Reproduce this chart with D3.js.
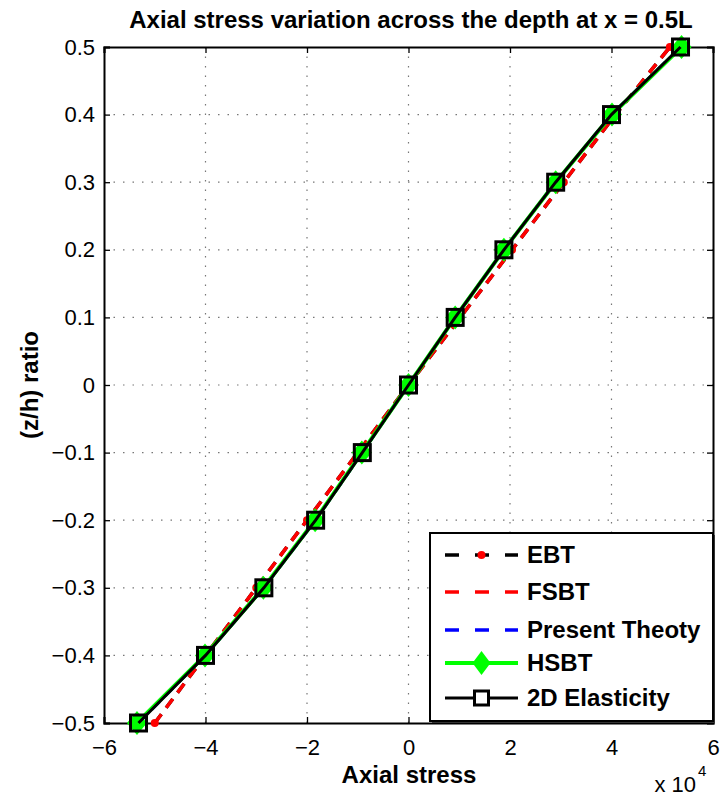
<!DOCTYPE html>
<html><head><meta charset="utf-8">
<script src="https://cdn.jsdelivr.net/npm/d3@7"></script>
<style>body{margin:0;background:#fff}svg{display:block}text{font-family:"Liberation Sans",Arial,sans-serif}</style>
</head><body><svg id="c" width="724" height="797"></svg>
<script>
const zRatio = [-0.5,-0.4,-0.3,-0.2,-0.1,0,0.1,0.2,0.3,0.4,0.5];
const ebt = [-5.0,-4.0,-3.0,-2.0,-1.0,0,1.02,2.04,3.06,4.08,5.15];
const fsbt = [-5.0,-4.0,-3.0,-2.0,-1.0,0,1.02,2.04,3.06,4.08,5.15];
const present = [-5.32,-4.0,-2.85,-1.83,-0.91,0,0.92,1.88,2.9,4.0,5.36];
const hsbt = [-5.35,-4.01,-2.86,-1.84,-0.92,0,0.92,1.88,2.9,4.01,5.38];
const elast2d = [-5.32,-4.0,-2.85,-1.83,-0.91,0,0.92,1.88,2.9,4.0,5.36];
const xTicks = [-6,-4,-2,0,2,4,6];
const yTicks = [-0.5,-0.4,-0.3,-0.2,-0.1,0,0.1,0.2,0.3,0.4,0.5];
const legendNames = ["EBT","FSBT","Present Theoty","HSBT","2D Elasticity"];

const svg = d3.select("#c");
const L=104,R=713,T=47,B=723;
const x = d3.scaleLinear().domain([-6,6]).range([L,R]);
const y = d3.scaleLinear().domain([-0.5,0.5]).range([B,T]);

// grid
const g = svg.append("g");
g.selectAll(".gx").data(xTicks.slice(1,-1)).join("line")
  .attr("x1",d=>x(d)).attr("x2",d=>x(d)).attr("y1",T).attr("y2",B)
  .attr("stroke","#777").attr("stroke-width",1.2).attr("stroke-dasharray","1.5,8");
g.selectAll(".gy").data(yTicks.slice(1,-1)).join("line")
  .attr("y1",d=>y(d)).attr("y2",d=>y(d)).attr("x1",L).attr("x2",R)
  .attr("stroke","#777").attr("stroke-width",1.2).attr("stroke-dasharray","1.5,8");

// axes (ticks inward, box)
const tl = 6;
const axB = d3.axisBottom(x).tickValues(xTicks).tickSize(-tl).tickPadding(tl+10).tickFormat(d=>d<0?"\u2212"+(-d):d);
const axL = d3.axisLeft(y).tickValues(yTicks).tickSize(-tl).tickPadding(tl+3).tickFormat(d=>{const s=d3.format(".1~f")(d);return s.replace("-","\u2212");});
const axT = d3.axisTop(x).tickValues(xTicks).tickSize(-tl).tickFormat("");
const axR = d3.axisRight(y).tickValues(yTicks).tickSize(-tl).tickFormat("");
function style(sel){sel.select(".domain").attr("stroke","#000").attr("stroke-width",2);
  sel.selectAll(".tick line").attr("stroke","#000").attr("stroke-width",1.3);
  sel.selectAll("text").attr("font-size",22).attr("fill","#000").attr("font-family","'Liberation Sans',Arial,sans-serif");}
svg.append("g").attr("transform",`translate(0,${B})`).call(axB).call(style);
svg.append("g").attr("transform",`translate(${L},0)`).call(axL).call(style);
svg.append("g").attr("transform",`translate(0,${T})`).call(axT).call(style);
svg.append("g").attr("transform",`translate(${R},0)`).call(axR).call(style);

// series
const line = d3.line().x(d=>x(d[0])).y(d=>y(d[1]));
const zip = v=>v.map((d,i)=>[d,zRatio[i]]);
const plot = svg.append("g");
plot.append("path").datum(zip(ebt)).attr("d",line).attr("fill","none").attr("stroke","#000").attr("stroke-width",3.5).attr("stroke-dasharray","11,8");
plot.selectAll(".ed").data(zip(ebt)).join("circle").attr("cx",d=>x(d[0])).attr("cy",d=>y(d[1])).attr("r",4).attr("fill","#f00");
plot.append("path").datum(zip(fsbt)).attr("d",line).attr("fill","none").attr("stroke","#f00").attr("stroke-width",3.5).attr("stroke-dasharray","11,8");
plot.append("path").datum(zip(present)).attr("d",line).attr("fill","none").attr("stroke","#00f").attr("stroke-width",3).attr("stroke-dasharray","11,8");
plot.append("path").datum(zip(hsbt)).attr("d",line).attr("fill","none").attr("stroke","#0f0").attr("stroke-width",4);
const diamond = (cx,cy,w,h)=>`M${cx},${cy-h}L${cx+w},${cy}L${cx},${cy+h}L${cx-w},${cy}Z`;
plot.selectAll(".hd").data(zip(hsbt)).join("path").attr("d",d=>diamond(x(d[0]),y(d[1]),10,12)).attr("fill","#0f0");
plot.append("path").datum(zip(elast2d)).attr("d",line).attr("fill","none").attr("stroke","#000").attr("stroke-width",3);
plot.selectAll(".sq").data(zip(elast2d)).join("rect").attr("x",d=>x(d[0])-8).attr("y",d=>y(d[1])-8).attr("width",16).attr("height",16)
  .attr("fill","none").attr("stroke","#000").attr("stroke-width",3);

// legend
const lg = svg.append("g");
const lx0=430, ly0=533, lx1=713, ly1=721;
lg.append("rect").attr("x",lx0+2).attr("y",ly0+2).attr("width",lx1-lx0).attr("height",ly1-ly0).attr("fill","#333");
lg.append("rect").attr("x",lx0).attr("y",ly0).attr("width",lx1-lx0).attr("height",ly1-ly0).attr("fill","#fff").attr("stroke","#000").attr("stroke-width",2);
const rows=[555,592,630,663,698];
const sx0=445,sx1=518,smid=(sx0+sx1)/2;
legendNames.forEach((n,i)=>{
  const yy=rows[i];
  if(i===0){lg.append("line").attr("x1",sx0).attr("x2",sx1).attr("y1",yy).attr("y2",yy).attr("stroke","#000").attr("stroke-width",3.5).attr("stroke-dasharray","14,16");
    lg.append("circle").attr("cx",smid).attr("cy",yy).attr("r",4).attr("fill","#f00");}
  if(i===1) lg.append("line").attr("x1",sx0).attr("x2",sx1).attr("y1",yy).attr("y2",yy).attr("stroke","#f00").attr("stroke-width",3.5).attr("stroke-dasharray","14,16");
  if(i===2) lg.append("line").attr("x1",sx0).attr("x2",sx1).attr("y1",yy).attr("y2",yy).attr("stroke","#00f").attr("stroke-width",3.5).attr("stroke-dasharray","14,16");
  if(i===3){lg.append("line").attr("x1",sx0).attr("x2",sx1).attr("y1",yy).attr("y2",yy).attr("stroke","#0f0").attr("stroke-width",4);
    lg.append("path").attr("d",diamond(smid,yy,9,12)).attr("fill","#0f0");}
  if(i===4){lg.append("line").attr("x1",sx0).attr("x2",sx1).attr("y1",yy).attr("y2",yy).attr("stroke","#000").attr("stroke-width",3);
    lg.append("rect").attr("x",smid-7).attr("y",yy-7).attr("width",14).attr("height",14).attr("fill","#fff").attr("stroke","#000").attr("stroke-width",3);}
  lg.append("text").attr("x",527).attr("y",yy+8).attr("font-size",24).attr("font-weight","bold").text(n);
});

// titles
svg.append("text").attr("x",411).attr("y",28).attr("text-anchor","middle").attr("font-size",24).attr("font-weight","bold").text("Axial stress variation across the depth at x = 0.5L");
svg.append("text").attr("x",409).attr("y",783).attr("text-anchor","middle").attr("font-size",24).attr("font-weight","bold").text("Axial stress");
svg.append("text").attr("transform","translate(38,385) rotate(-90)").attr("text-anchor","middle").attr("font-size",24).attr("font-weight","bold").text("(z/h) ratio");
svg.append("text").attr("x",696).attr("y",792).attr("text-anchor","end").attr("font-size",22).text("x 10");
svg.append("text").attr("x",698).attr("y",776).attr("font-size",15).text("4");
</script></body></html>
